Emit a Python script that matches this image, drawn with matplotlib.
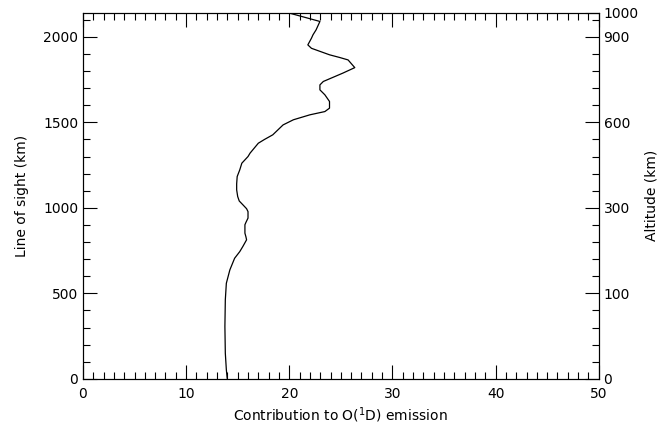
import numpy as np
import matplotlib
matplotlib.use("Agg")
import matplotlib.pyplot as plt
from matplotlib.ticker import MultipleLocator, FixedLocator

# contribution profile (x = contribution, y = line of sight km)
contrib = [13.98, 13.9, 13.8, 13.76, 13.8, 13.9, 14.24, 14.7, 15.2, 15.5, 15.86,
           15.8, 15.7, 15.7, 15.8, 16.0, 16.0, 15.86, 15.5, 15.15, 15.0, 14.9,
           14.9, 14.95, 15.2, 15.4, 16.0, 16.2, 17.0, 17.6, 18.4, 19.4, 20.4,
           22.0, 23.45, 23.9, 23.9, 23.45, 22.97, 22.97, 23.3, 25.2, 26.35,
           25.7, 24.9, 23.9, 22.15, 21.8, 22.15, 22.3, 22.6, 22.97, 20.06]
los_km = [4, 53, 150, 306, 462, 559, 637, 705, 744, 774, 813,
          830, 852, 901, 915, 940, 978, 995, 1018, 1040, 1066, 1105,
          1140, 1183, 1222, 1261, 1300, 1320, 1378, 1400, 1427, 1485, 1515,
          1544, 1563, 1583, 1622, 1661, 1690, 1719, 1739, 1788, 1820,
          1865, 1879, 1895, 1933, 1953, 1992, 2012, 2041, 2090, 2138]

alt_ticks_los = [0, 500, 1000, 1500, 2000, 2140]
alt_labels = ["0", "100", "300", "600", "900", "1000"]

plt.rcParams["font.family"] = ["DejaVu Sans"]
plt.rcParams["font.size"] = 10

fig = plt.figure(figsize=(6.69, 4.30), dpi=100)
ax = fig.add_axes([0.124, 0.119, 0.771, 0.851])

ax.plot(contrib, los_km, color="black", lw=0.9)

ax.set_xlim(0, 50)
ax.set_ylim(0, 2140)
ax.xaxis.set_major_locator(MultipleLocator(10))
ax.xaxis.set_minor_locator(MultipleLocator(1))
ax.yaxis.set_major_locator(MultipleLocator(500))
ax.yaxis.set_minor_locator(MultipleLocator(100))
ax.tick_params(which="both", direction="in", top=True, right=False, color="black")
ax.tick_params(which="major", length=10, width=0.8)
ax.tick_params(which="minor", length=5, width=0.8)
ax.tick_params(axis="x", pad=6)
ax.set_xlabel("Contribution to O($^{\\mathsf{1}}$D) emission", labelpad=3)
ax.set_ylabel("Line of sight (km)", labelpad=10)
for s in ax.spines.values():
    s.set_linewidth(0.8)

ax2 = ax.twinx()
ax2.set_ylim(ax.get_ylim())
ax2.yaxis.set_major_locator(FixedLocator(alt_ticks_los))
ax2.set_yticklabels(alt_labels)
ax2.yaxis.set_minor_locator(MultipleLocator(100))
ax2.tick_params(which="both", direction="in", color="black")
ax2.tick_params(which="major", length=10, width=0.8)
ax2.tick_params(which="minor", length=5, width=0.8)
ax2.set_ylabel("Altitude (km)", labelpad=4)

fig.savefig("out.png", dpi=100)
